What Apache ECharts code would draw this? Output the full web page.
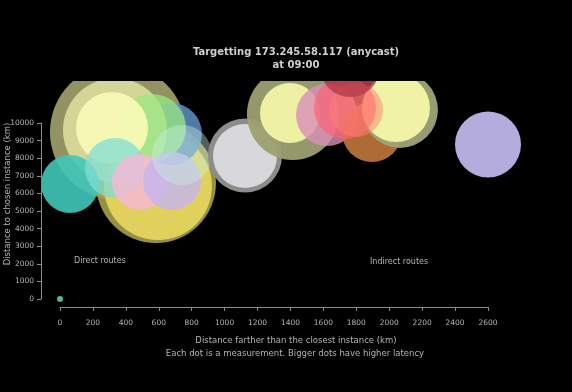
<!DOCTYPE html>
<html>
<head>
<meta charset="utf-8">
<script src="https://cdn.jsdelivr.net/npm/echarts@6/dist/echarts.min.js"></script>
<style>
html,body{margin:0;padding:0;background:#000;}
#chart{width:572px;height:392px;}
</style>
</head>
<body>
<div id="chart"></div>
<script>
// ---- data ----
const xTicks = [0,200,400,600,800,1000,1200,1400,1600,1800,2000,2200,2400,2600];
const yTicks = [0,1000,2000,3000,4000,5000,6000,7000,8000,9000,10000];
// distance farther than the closest instance (km)
const extraDistanceKm = [0, 352, 583, 595, 674, 334, 559, 316, 61, 334, 486, 680, 741,
  1124, 1124, 1415, 1397, 1622, 1895, 2065, 2041, 1731, 1798, 1762, 2600];
// distance to chosen instance (km)
const chosenDistanceKm = [0, 9489, 6591, 6420, 9375, 9603, 9716, 9716, 6534, 7443, 6648, 6705, 8182,
  8154, 8125, 10512, 10569, 10455, 9489, 10739, 10853, 10853, 10739, 13182, 8779];
// latency of each measurement (ms) -> bubble size
const latencyMs = [12, 272, 240, 216, 124, 208, 136, 144, 116, 120, 112, 116, 120,
  148, 128, 184, 120, 124, 120, 152, 136, 124, 108, 120, 132];

// ---- styles ----
const pointColors = ['#4fb89a', '#9a9a68', '#a8a048', '#e8d860', '#5a88b8', '#e0e0a0', '#98e880', '#fbfbb8',
  '#40c8b8', '#80dcd4', '#f8b8d8', '#c4b4f0', '#c8f0e8',
  '#8c8c8c', '#dcdce0', '#9ca070', '#f2f6a8', '#d890b8', '#c07838', '#a0a478', '#f4f8a8',
  '#ff6070', '#ff8070', '#b84050', '#b4acdc'];
const pointAlpha = [1, 0.95, 0.9, 0.9, 0.9, 0.85, 0.75, 0.9, 0.9, 0.75, 0.8, 0.8, 0.4,
  1, 0.95, 0.95, 0.95, 0.8, 0.9, 0.95, 0.95, 0.65, 0.5, 0.85, 1];
const SIZE_PER_MS = 0.5;

const data = extraDistanceKm.map((x, i) => ({
  value: [x, chosenDistanceKm[i], latencyMs[i]],
  itemStyle: { color: pointColors[i], opacity: pointAlpha[i] }
}));

const axisGray = '#8a8a8a';
const labelGray = '#b4b4b4';
const chart = echarts.init(document.getElementById('chart'), null, { renderer: 'canvas' });
chart.setOption({
  backgroundColor: '#000',
  animation: false,
  grid: { left: 60, right: 84, top: 123, bottom: 93 },
  xAxis: {
    type: 'value', min: xTicks[0], max: xTicks[xTicks.length - 1], interval: 200,
    offset: 8, z: 10,
    splitLine: { show: false },
    axisLine: { show: true, onZero: false, lineStyle: { color: axisGray, width: 1 } },
    axisTick: { show: true, length: 4, lineStyle: { color: axisGray } },
    axisLabel: { color: labelGray, fontSize: 7.5, fontFamily: 'DejaVu Sans', margin: 12, formatter: v => String(v) }
  },
  yAxis: {
    type: 'value', min: yTicks[0], max: yTicks[yTicks.length - 1], interval: 1000,
    offset: 19, z: 10,
    splitLine: { show: false },
    axisLine: { show: true, onZero: false, lineStyle: { color: axisGray, width: 1 } },
    axisTick: { show: true, length: 4, lineStyle: { color: axisGray } },
    axisLabel: { color: labelGray, fontSize: 7.5, fontFamily: 'DejaVu Sans', margin: 7, formatter: v => String(v) }
  },
  series: [{
    type: 'scatter',
    clip: false,
    z: 2,
    data: data,
    symbol: 'circle',
    symbolSize: v => v[2] * SIZE_PER_MS
  }],
  graphic: [
    { type: 'rect', z: 50, silent: true, shape: { x: 0, y: 0, width: 572, height: 81 }, style: { fill: '#000' } },
    { type: 'text', z: 60, x: 296, y: 52, style: { text: 'Targetting 173.245.58.117 (anycast)', fill: '#cfcfcf', font: 'bold 10px "DejaVu Sans"', textAlign: 'center', textVerticalAlign: 'middle' } },
    { type: 'text', z: 60, x: 296, y: 65, style: { text: 'at 09:00', fill: '#cfcfcf', font: 'bold 10px "DejaVu Sans"', textAlign: 'center', textVerticalAlign: 'middle' } },
    { type: 'text', z: 60, x: 296, y: 341, style: { text: 'Distance farther than the closest instance (km)', fill: labelGray, font: '8.5px "DejaVu Sans"', textAlign: 'center', textVerticalAlign: 'middle' } },
    { type: 'text', z: 60, x: 295, y: 354, style: { text: 'Each dot is a measurement. Bigger dots have higher latency', fill: labelGray, font: '8.5px "DejaVu Sans"', textAlign: 'center', textVerticalAlign: 'middle' } },
    { type: 'text', z: 60, x: 8, y: 194, rotation: Math.PI / 2, style: { text: 'Distance to chosen instance (km)', fill: labelGray, font: '8.5px "DejaVu Sans"', textAlign: 'center', textVerticalAlign: 'middle' } },
    { type: 'text', z: 60, x: 74, y: 261, style: { text: 'Direct routes', fill: labelGray, font: '8px "DejaVu Sans"', textAlign: 'left', textVerticalAlign: 'middle' } },
    { type: 'text', z: 60, x: 370, y: 262, style: { text: 'Indirect routes', fill: labelGray, font: '8px "DejaVu Sans"', textAlign: 'left', textVerticalAlign: 'middle' } }
  ]
});
</script>
</body>
</html>
